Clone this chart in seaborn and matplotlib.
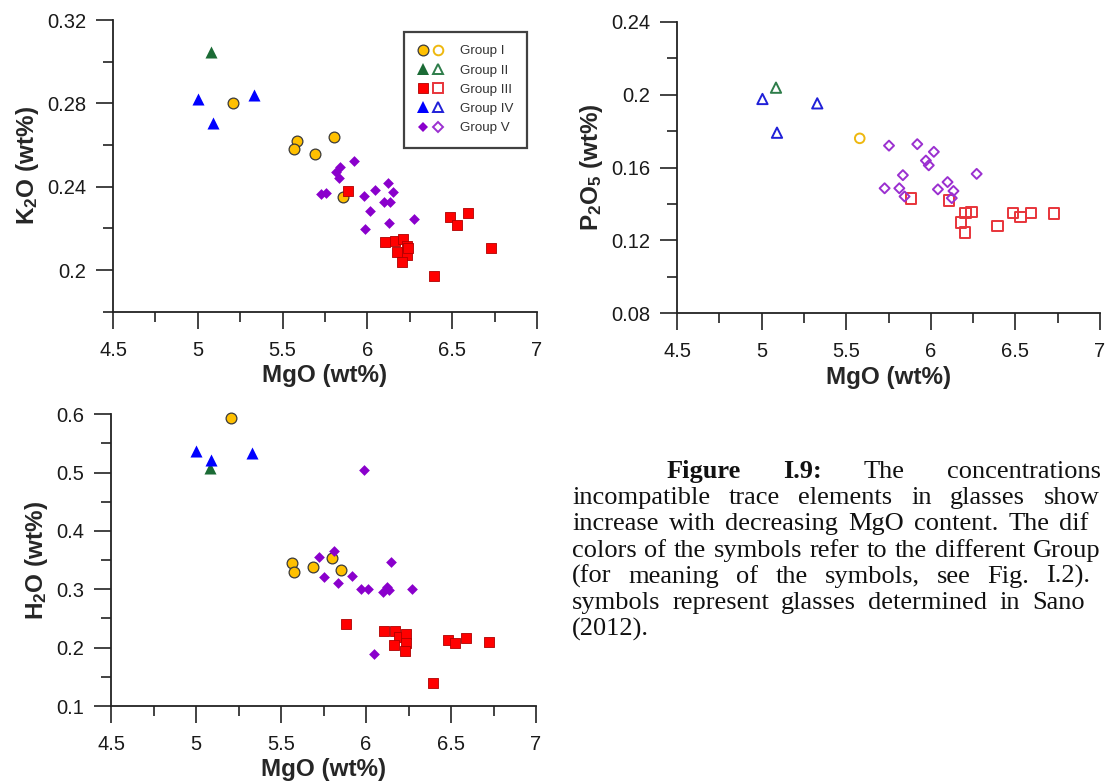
import matplotlib
matplotlib.use("Agg")
import matplotlib.pyplot as plt
from matplotlib.ticker import MultipleLocator, FixedLocator, FuncFormatter
from matplotlib.lines import Line2D
from matplotlib.legend_handler import HandlerTuple
import seaborn as sns

# ---------------- data ----------------
groups = ["Group I", "Group II", "Group III", "Group IV", "Group V"]

# K2O vs MgO (filled symbols)
k_g1_x = [5.207, 5.582, 5.568, 5.693, 5.805, 5.856]
k_g1_y = [0.2803, 0.2621, 0.2579, 0.2557, 0.2640, 0.2349]
k_g2_x = [5.079]
k_g2_y = [0.3048]
k_g3_x = [5.883, 6.103, 6.161, 6.207, 6.233, 6.176, 6.233, 6.202, 6.237, 6.392, 6.489, 6.530, 6.592, 6.728]
k_g3_y = [0.2379, 0.2133, 0.2141, 0.2150, 0.2115, 0.2088, 0.2072, 0.2040, 0.2104, 0.1971, 0.2256, 0.2216, 0.2272, 0.2107]
k_g4_x = [5.000, 5.089, 5.329]
k_g4_y = [0.2819, 0.2704, 0.2840]
k_g5_x = [5.922, 5.840, 5.815, 5.831, 5.724, 5.753, 5.980, 6.042, 6.120, 6.151, 6.099, 6.134, 6.015, 5.986, 6.130, 6.272]
k_g5_y = [0.2523, 0.2496, 0.2472, 0.2440, 0.2365, 0.2371, 0.2355, 0.2384, 0.2416, 0.2376, 0.2325, 0.2326, 0.2283, 0.2195, 0.2224, 0.2245]

# P2O5 vs MgO (open symbols)
p_g1_x = [5.580]
p_g1_y = [0.1760]
p_g2_x = [5.085]
p_g2_y = [0.2038]
p_g3_x = [5.883, 6.108, 6.179, 6.201, 6.205, 6.242, 6.393, 6.485, 6.531, 6.593, 6.727]
p_g3_y = [0.1431, 0.1418, 0.1297, 0.1244, 0.1351, 0.1355, 0.1280, 0.1351, 0.1329, 0.1351, 0.1347]
p_g4_x = [5.005, 5.091, 5.329]
p_g4_y = [0.1976, 0.1791, 0.1952]
p_g5_x = [5.753, 5.920, 6.018, 5.971, 5.988, 5.835, 6.271, 5.727, 5.814, 5.845, 6.042, 6.099, 6.134, 6.124]
p_g5_y = [0.1720, 0.1728, 0.1686, 0.1638, 0.1612, 0.1558, 0.1565, 0.1486, 0.1486, 0.1441, 0.1480, 0.1520, 0.1471, 0.1432]

# H2O vs MgO (filled symbols)
h_g1_x = [5.206, 5.565, 5.579, 5.688, 5.799, 5.855]
h_g1_y = [0.5937, 0.3457, 0.3303, 0.3377, 0.3531, 0.3331]
h_g2_x = [5.081]
h_g2_y = [0.5074]
h_g3_x = [5.882, 6.104, 6.170, 6.193, 6.234, 6.164, 6.234, 6.232, 6.393, 6.485, 6.526, 6.588, 6.726]
h_g3_y = [0.2400, 0.2291, 0.2291, 0.2189, 0.2229, 0.2046, 0.2074, 0.1943, 0.1389, 0.2131, 0.2086, 0.2171, 0.2103]
h_g4_x = [5.002, 5.087, 5.328]
h_g4_y = [0.5371, 0.5217, 0.5331]
h_g5_x = [5.987, 5.725, 5.812, 5.752, 5.836, 5.919, 5.970, 6.014, 6.098, 6.121, 6.135, 6.149, 6.269, 6.047]
h_g5_y = [0.5040, 0.3560, 0.3657, 0.3206, 0.3114, 0.3234, 0.3011, 0.3000, 0.2960, 0.3034, 0.2989, 0.3474, 0.3011, 0.1886]

x_ticks = [4.5, 5, 5.5, 6, 6.5, 7]
k2o_ticks = [0.2, 0.24, 0.28, 0.32]
p2o5_ticks = [0.08, 0.12, 0.16, 0.2, 0.24]
h2o_ticks = [0.1, 0.2, 0.3, 0.4, 0.5, 0.6]

# caption text as visible in the (page-cropped) reference
caption_lines = [
    "Figure I.9: The concentrations",
    "incompatible trace elements in glasses show",
    "increase with decreasing MgO content. The dif",
    "colors of the symbols refer to the different Group",
    "(for meaning of the symbols, see Fig. I.2).",
    "symbols represent glasses determined in Sano",
    "(2012).",
]

# ---------------- style ----------------
sns.set_style("ticks")
plt.rcParams["font.family"] = ["Liberation Sans", "DejaVu Sans"]
plt.rcParams["mathtext.fontset"] = "custom"
plt.rcParams["mathtext.rm"] = "Liberation Sans:bold"
plt.rcParams["mathtext.it"] = "Liberation Sans:bold"
plt.rcParams["mathtext.bf"] = "Liberation Sans:bold"
plt.rcParams["mathtext.default"] = "rm"

fill_col = ["#FFC000", "#1B6B35", "#FF0000", "#0000FF", "#8A00CC"]
fill_edge = ["#3a3a3a", "#1B6B35", "#B00000", "#0000FF", "#8A00CC"]
open_col = ["#EEB80F", "#2E7D4A", "#E8343A", "#2020D8", "#9B30D0"]
marks = ["o", "^", "s", "^", "D"]
fill_size = [60, 75, 62, 75, 30]
open_size = [48, 55, 58, 55, 26]
fill_lw = [0.9, 0, 0.6, 0, 0]

W, H = 1105, 783
fig = plt.figure(figsize=(W / 100, H / 100), dpi=100)


def px_axes(x0, x1, y0, y1):
    return fig.add_axes([x0 / W, 1 - y1 / H, (x1 - x0) / W, (y1 - y0) / H])


ax1 = px_axes(113, 537, 20, 311.7)
ax2 = px_axes(677, 1100, 21.7, 313.3)
ax3 = px_axes(111, 536, 414.3, 706)

fmt = FuncFormatter(lambda v, p: f"{v:g}")


def style_axis(ax, ylim, yticks, yminor, ylabel):
    ax.set_xlim(4.5, 7)
    ax.set_ylim(*ylim)
    ax.xaxis.set_major_locator(FixedLocator(x_ticks))
    ax.xaxis.set_minor_locator(MultipleLocator(0.25))
    ax.yaxis.set_major_locator(FixedLocator(yticks))
    ax.yaxis.set_minor_locator(MultipleLocator(yminor))
    ax.xaxis.set_major_formatter(fmt)
    ax.yaxis.set_major_formatter(fmt)
    ax.tick_params(which="major", direction="out", length=12, width=1.2,
                   color="#222222", labelsize=14.5, pad=7, labelcolor="#1a1a1a")
    ax.tick_params(axis="x", which="major", pad=9)
    ax.tick_params(which="minor", direction="out", length=7, width=1.2, color="#222222")
    for s in ["top", "right"]:
        ax.spines[s].set_visible(False)
    for s in ["left", "bottom"]:
        ax.spines[s].set_linewidth(1.3)
        ax.spines[s].set_color("#222222")
    ax.set_xlabel("MgO (wt%)", fontsize=17.5, fontweight="bold", labelpad=3)
    ax.set_ylabel(ylabel, fontsize=17.5, fontweight="bold", labelpad=5)


def plot_filled(ax, xs, ys):
    for i, (x, y) in enumerate(zip(xs, ys)):
        sns.scatterplot(x=x, y=y, ax=ax, marker=marks[i], s=fill_size[i],
                        color=fill_col[i], edgecolor=fill_edge[i],
                        linewidth=fill_lw[i], legend=False, zorder=3, clip_on=False)


def plot_open(ax, xs, ys):
    for i, (x, y) in enumerate(zip(xs, ys)):
        sns.scatterplot(x=x, y=y, ax=ax, marker=marks[i], s=open_size[i],
                        facecolor="none", edgecolor=open_col[i],
                        linewidth=1.4, legend=False, zorder=3, clip_on=False)


plot_filled(ax1, [k_g1_x, k_g2_x, k_g3_x, k_g4_x, k_g5_x],
            [k_g1_y, k_g2_y, k_g3_y, k_g4_y, k_g5_y])
plot_open(ax2, [p_g1_x, p_g2_x, p_g3_x, p_g4_x, p_g5_x],
          [p_g1_y, p_g2_y, p_g3_y, p_g4_y, p_g5_y])
plot_filled(ax3, [h_g1_x, h_g2_x, h_g3_x, h_g4_x, h_g5_x],
            [h_g1_y, h_g2_y, h_g3_y, h_g4_y, h_g5_y])

style_axis(ax1, (0.18, 0.32), k2o_ticks, 0.02, "K$_2$O (wt%)")
style_axis(ax2, (0.08, 0.24), p2o5_ticks, 0.02, "P$_2$O$_5$ (wt%)")
style_axis(ax3, (0.1, 0.6), h2o_ticks, 0.05, "H$_2$O (wt%)")

# legend with filled + open symbols
handles = []
for i in range(5):
    h_f = Line2D([], [], ls="none", marker=marks[i], markersize=fill_size[i] ** 0.5,
                 mfc=fill_col[i], mec=fill_edge[i] if fill_lw[i] > 0 else fill_col[i],
                 mew=fill_lw[i])
    h_o = Line2D([], [], ls="none", marker=marks[i], markersize=open_size[i] ** 0.5,
                 mfc="none", mec=open_col[i], mew=1.4)
    handles.append((h_f, h_o))
leg = ax1.legend(handles, groups, handler_map={tuple: HandlerTuple(ndivide=None, pad=0.4)},
                 loc="upper left", bbox_to_anchor=(404 / W, 1 - 31.7 / H),
                 bbox_transform=fig.transFigure, frameon=True,
                 fancybox=False, edgecolor="#111111", fontsize=9.6,
                 handlelength=1.95, handletextpad=1.25, labelspacing=0.52,
                 borderpad=1.0, borderaxespad=0)
leg.get_frame().set_linewidth(1.6)
for t in leg.get_texts():
    t.set_color("#333333")

# caption: justified block of the page, cropped at the right edge
serif = ["Liberation Serif", "DejaVu Serif"]
cap_fs = 19
line_start = [667, 572, 572, 572, 572, 572, 572]
line_gap = [42, 18.5, 10, 7.5, 17, 12, 6.6]
line_base = [478, 504.2, 530.4, 556.6, 582.8, 609, 635.2]
renderer = fig.canvas.get_renderer()
for li, (ln, x0, gap, yb) in enumerate(zip(caption_lines, line_start, line_gap, line_base)):
    x = x0
    for wi, word in enumerate(ln.split(" ")):
        bold = (li == 0 and wi < 2)
        t = fig.text(x / W, 1 - yb / H, word, family=serif, fontsize=cap_fs,
                     fontweight="bold" if bold else "normal", va="baseline",
                     color="#111111")
        x += t.get_window_extent(renderer).width + gap

fig.savefig("out.png", dpi=100)
